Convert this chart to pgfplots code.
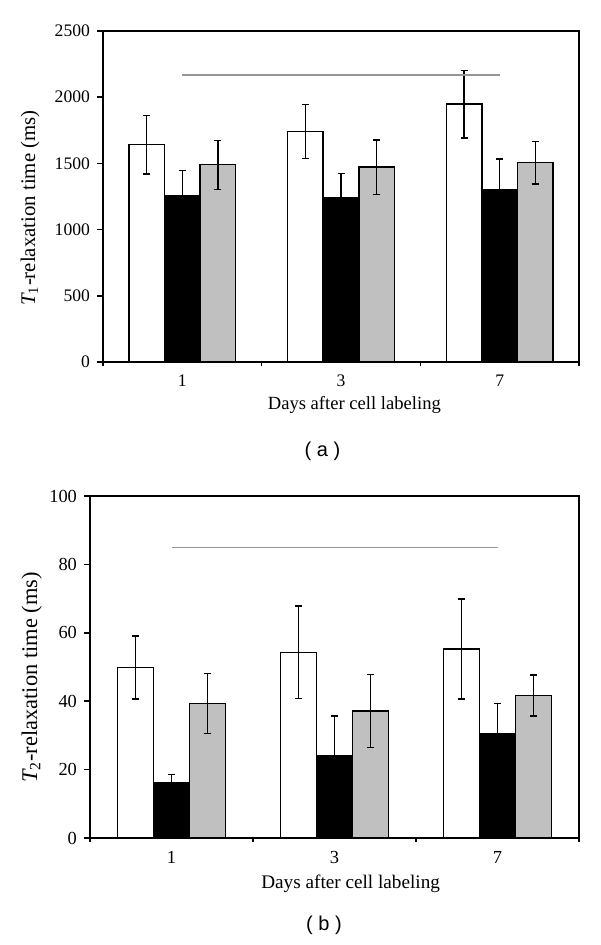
\documentclass[border=0pt]{standalone}
\usepackage{fontspec}
\setmainfont{Liberation Serif}
\newfontfamily\sansf{Liberation Sans}
\usepackage{pgfplots}
\pgfplotsset{compat=1.18}
\definecolor{barg}{RGB}{192,192,192}
\definecolor{lineg}{RGB}{150,150,150}
\pgfplotsset{
 myax/.style={
  scale only axis, anchor=south west,
  xmin=-0.5, xmax=2.5, ymin=0,
  axis line style={line width=0.75pt},
  xtick={0,1,2}, xticklabels={1,3,7},
  minor xtick={-0.5,0.5,1.5,2.5},
  major x tick style={draw=none},
  minor x tick style={line width=0.75pt, black},
  minor tick length=2pt,
  major tick length=3pt,
  y tick style={line width=0.75pt, black},
  tick align=outside,
  xtick pos=left, ytick pos=left,
  /pgf/number format/assume math mode=true,
  /pgf/number format/set thousands separator={},
  xlabel={Days after cell labeling},
 },
 mybar/.style={ybar, bar shift=0, draw=black, line width=0.75pt,
   error bars/y dir=both, error bars/y explicit,
   error bars/error mark=-,
   error bars/error bar style={line width=0.7pt, black},
   error bars/error mark options={rotate=90, black, line width=0.7pt, mark size=1.75pt}},
}
\begin{document}
\begin{tikzpicture}
\useasboundingbox (0,0) rectangle (300pt,472.5pt);
% ---------- (a) ----------
\begin{axis}[myax,
  at={(51.5pt,291.5pt)}, width=238pt, height=165.5pt,
  ymax=2500, ytick={0,500,...,2500},
  bar width=0.224,
  tick label style={font=\fontsize{8.8}{10}\selectfont},
  xlabel style={font=\fontsize{9.3}{11}\selectfont, at={(axis description cs:0.528,-0.130)}, anchor=center},
  ylabel={{\itshape T}\textsubscript{1}-relaxation time (ms)},
  ylabel style={font=\fontsize{10.4}{12}\selectfont, at={(axis description cs:-0.153,0.465)}, rotate=0, anchor=center},
]
% white bars (x = category - 0.224)
\addplot[mybar, fill=white] coordinates {(-0.224,1641) +- (0,222) (0.776,1742) +- (0,205) (1.776,1947) +- (0,255)};
% black bars
\addplot[mybar, fill=black] coordinates {(0,1258) +- (0,190) (1,1240) +- (0,185) (2,1303) +- (0,230)};
% grey bars (x = category + 0.224)
\addplot[mybar, fill=barg] coordinates {(0.224,1490) +- (0,185) (1.224,1472) +- (0,205) (2.224,1505) +- (0,160)};
\addplot[lineg, line width=0.75pt, sharp plot, mark=none, forget plot] coordinates {(0,2167) (2,2167)};
\end{axis}
\node[font=\sansf\fontsize{10}{12}\selectfont] at (161.25pt,247pt) {( a )};
% ---------- (b) ----------
\begin{axis}[myax,
  at={(45pt,53.5pt)}, width=244.5pt, height=171pt,
  ymax=100, ytick={0,20,...,100},
  bar width=0.221,
  tick label style={font=\fontsize{9.2}{11}\selectfont},
  xlabel style={font=\fontsize{9.6}{11}\selectfont, at={(axis description cs:0.533,-0.1345)}, anchor=center},
  ylabel={{\itshape T}\textsubscript{2}-relaxation time (ms)},
  ylabel style={font=\fontsize{11.2}{13}\selectfont, at={(axis description cs:-0.119,0.469)}, rotate=0, anchor=center},
]
\addplot[mybar, fill=white] coordinates {(-0.221,49.9) +- (0,9.2) (0.779,54.3) +- (0,13.5) (1.779,55.3) +- (0,14.6)};
\addplot[mybar, fill=black] coordinates {(0,16.1) +- (0,2.5) (1,24.0) +- (0,11.7) (2,30.6) +- (0,8.7)};
\addplot[mybar, fill=barg] coordinates {(0.221,39.3) +- (0,8.8) (1.221,37.1) +- (0,10.7) (2.221,41.7) +- (0,6.0)};
\addplot[lineg, line width=0.75pt, sharp plot, mark=none, forget plot] coordinates {(0,85) (2,85)};
\end{axis}
\node[font=\sansf\fontsize{10}{12}\selectfont] at (162pt,10pt) {( b )};
\end{tikzpicture}
\end{document}
